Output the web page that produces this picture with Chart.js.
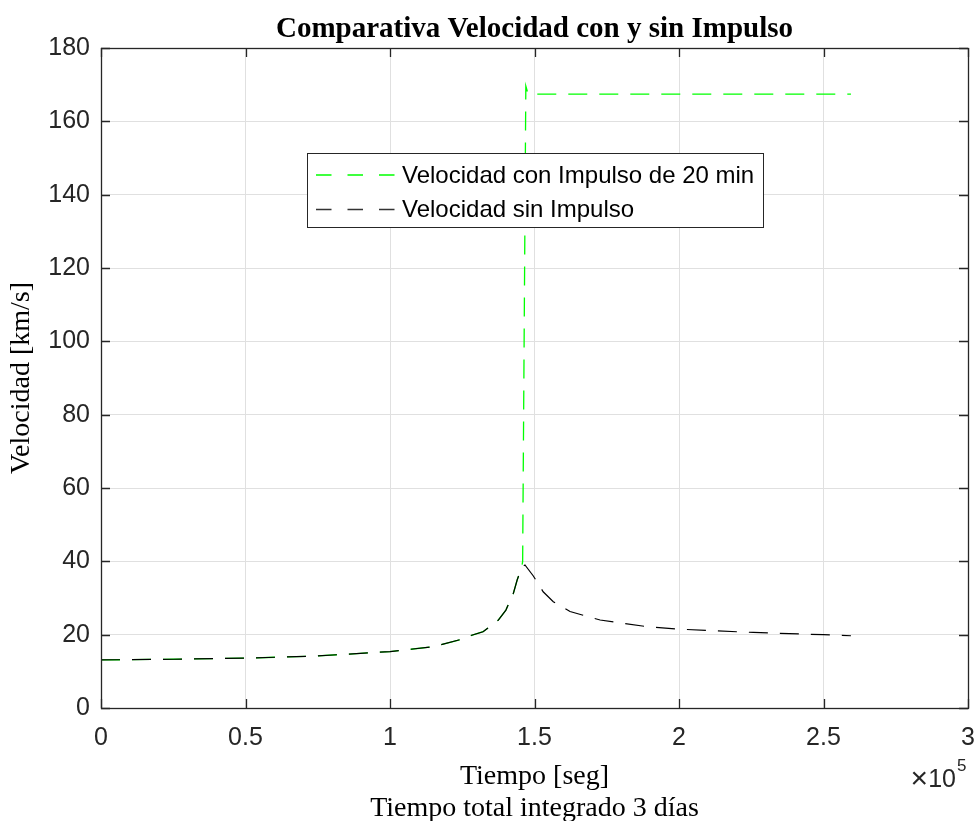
<!DOCTYPE html>
<html>
<head>
<meta charset="utf-8">
<title>Comparativa Velocidad con y sin Impulso</title>
<script src="https://cdn.jsdelivr.net/npm/chart.js@4/dist/chart.umd.min.js"></script>
<style>
  html, body { margin: 0; padding: 0; background: #fff; }
  #chart { display: block; }
</style>
</head>
<body>
<canvas id="chart" width="978" height="821"></canvas>
<script>
/* ================================================================
   Comparativa Velocidad con y sin Impulso
   ================================================================ */

// ── Data (time in s, speed in km/s) ───────────────────────────────
const tiempoSin = [0, 25000, 50000, 75000, 100000, 115000, 125000, 127700, 132200,
  137500, 140100, 142700, 144000, 145600, 146700, 149600, 153000, 156500, 162300,
  172700, 188800, 200300, 225700, 249900, 259500];
const velSin = [13.1, 13.3, 13.6, 14.2, 15.4, 16.7, 18.8, 19.7, 20.8,
  24.0, 26.7, 31.3, 34.9, 38.5, 39.0, 36.0, 31.7, 29.0, 26.3,
  24.0, 22.2, 21.5, 20.6, 20.0, 19.7];

const tiempoCon = [0, 25000, 50000, 75000, 100000, 115000, 125000, 127700, 132200,
  137500, 140100, 142700, 144000, 145600, 145900, 147000, 147800, 259500];
const velCon = [13.1, 13.3, 13.6, 14.2, 15.4, 16.7, 18.8, 19.7, 20.8,
  24.0, 26.7, 31.3, 34.9, 38.5, 40.0, 169.6, 167.4, 167.4];

const xTicks = [0, 50000, 100000, 150000, 200000, 250000, 300000];
const yTicks = [0, 20, 40, 60, 80, 100, 120, 140, 160, 180];

const SERIES_NAMES = ["Velocidad con Impulso de 20 min", "Velocidad sin Impulso"];

// ── Styles ────────────────────────────────────────────────────────
const GREEN = "#00ff00";
const BLACK = "#000000";
const AXIS  = "#262626";
const GRID  = "#e0e0e0";
const SANS  = "'Liberation Sans', Arial, sans-serif";
const SERIF = "'Liberation Serif', 'Times New Roman', serif";

const toPoints = (xs, ys) => xs.map((x, i) => ({ x, y: ys[i] }));

// ── Axes box, inward ticks, exponent and legend (MATLAB look) ─────
const matlabAxes = {
  id: "matlabAxes",
  afterDatasetsDraw(chart) {
    const { ctx, chartArea: a, scales: { x, y } } = chart;
    const tl = 9;
    ctx.save();
    ctx.strokeStyle = AXIS;
    ctx.lineWidth = 1.3;
    ctx.beginPath();
    xTicks.forEach((v) => {
      const px = Math.round(x.getPixelForValue(v)) + 0.5;
      ctx.moveTo(px, a.bottom); ctx.lineTo(px, a.bottom - tl);
      ctx.moveTo(px, a.top);    ctx.lineTo(px, a.top + tl);
    });
    yTicks.forEach((v) => {
      const py = Math.round(y.getPixelForValue(v)) + 0.5;
      ctx.moveTo(a.left, py);  ctx.lineTo(a.left + tl, py);
      ctx.moveTo(a.right, py); ctx.lineTo(a.right - tl, py);
    });
    ctx.stroke();
    ctx.strokeRect(Math.round(a.left) + 0.5, Math.round(a.top) + 0.5,
      Math.round(a.right - a.left), Math.round(a.bottom - a.top));

    // ×10^5 exponent label
    ctx.fillStyle = AXIS;
    ctx.textBaseline = "alphabetic";
    ctx.textAlign = "right";
    ctx.font = "25px " + SANS;
    ctx.fillText("10", 956, 787);
    ctx.font = "30px " + SANS;
    ctx.fillText("\u00d7", 928, 788);
    ctx.textAlign = "left";
    ctx.font = "17px " + SANS;
    ctx.fillText("5", 957, 771);

    // legend
    const lx = 307.5, ly = 153.5, lw = 456, lh = 74;
    ctx.fillStyle = "#ffffff";
    ctx.fillRect(lx, ly, lw, lh);
    ctx.lineWidth = 1;
    ctx.strokeStyle = AXIS;
    ctx.strokeRect(lx, ly, lw, lh);
    const rows = [175, 209.5];
    chart.data.datasets.forEach((ds, i) => {
      ctx.save();
      ctx.strokeStyle = i === 0 ? ds.borderColor : "#333333";
      ctx.lineWidth = 1.3;
      ctx.setLineDash([15.5, 16]);
      ctx.beginPath();
      ctx.moveTo(316, rows[i]);
      ctx.lineTo(396, rows[i]);
      ctx.stroke();
      ctx.restore();
      ctx.fillStyle = "#000";
      ctx.font = "24px " + SANS;
      ctx.textAlign = "left";
      ctx.textBaseline = "middle";
      ctx.fillText(ds.label, 402, rows[i] + 1);
    });
    ctx.restore();
  },
};

// ── Chart ─────────────────────────────────────────────────────────
new Chart(document.getElementById("chart"), {
  type: "line",
  data: {
    datasets: [
      {
        label: SERIES_NAMES[0],
        data: toPoints(tiempoCon, velCon),
        borderColor: GREEN,
        borderWidth: 1.3,
        borderDash: [19, 12],
        pointRadius: 0,
        fill: false,
        tension: 0,
        order: 2,
      },
      {
        label: SERIES_NAMES[1],
        data: toPoints(tiempoSin, velSin),
        borderColor: BLACK,
        borderWidth: 1.2,
        borderDash: [19, 12],
        pointRadius: 0,
        fill: false,
        tension: 0,
        order: 1,
      },
    ],
  },
  options: {
    responsive: false,
    animation: false,
    layout: { padding: { top: 0, left: 0, right: 10, bottom: 0 } },
    plugins: {
      legend: { display: false },
      tooltip: { enabled: false },
      title: {
        display: true,
        fullSize: false,
        text: "Comparativa Velocidad con y sin Impulso",
        color: "#000",
        font: { family: SERIF, size: 29, weight: "bold", lineHeight: 1.2 },
        padding: { top: 12, bottom: 1.2 },
      },
    },
    scales: {
      x: {
        type: "linear",
        min: 0,
        max: 300000,
        afterFit: (s) => { s.height = 113; s.paddingLeft = 0; s.paddingRight = 0; },
        afterBuildTicks: (s) => { s.ticks = xTicks.map((v) => ({ value: v })); },
        ticks: {
          callback: (v) => String(v / 100000),
          color: AXIS,
          font: { family: SANS, size: 25 },
          padding: 15,
          maxRotation: 0,
        },
        grid: { color: GRID, lineWidth: 1, drawTicks: false },
        border: { display: false },
        title: {
          display: true,
          text: ["Tiempo [seg]", "Tiempo total integrado 3 días"],
          color: "#000",
          font: { family: SERIF, size: 28, lineHeight: "32px" },
          padding: { top: 0, bottom: -4 },
        },
      },
      y: {
        min: 0,
        max: 180,
        afterFit: (s) => { s.width = 101; },
        afterBuildTicks: (s) => { s.ticks = yTicks.map((v) => ({ value: v })); },
        ticks: {
          color: AXIS,
          font: { family: SANS, size: 25 },
          padding: 11,
        },
        grid: { color: GRID, lineWidth: 1, drawTicks: false },
        border: { display: false },
        title: {
          display: true,
          text: "Velocidad [km/s]",
          color: "#000",
          font: { family: SERIF, size: 28, lineHeight: 1.2 },
          padding: { top: 5, bottom: 0 },
        },
      },
    },
  },
  plugins: [matlabAxes],
});
</script>
</body>
</html>
